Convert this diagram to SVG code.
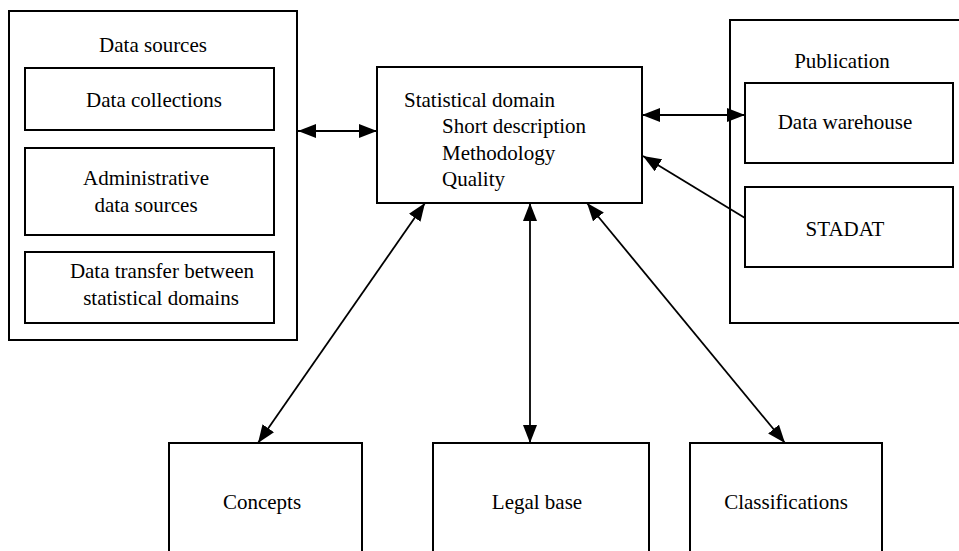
<svg xmlns="http://www.w3.org/2000/svg" width="959" height="551" viewBox="0 0 959 551">
<style>
  .box { fill: #fff; stroke: #000; stroke-width: 2; }
  .t { font-family: 'Liberation Serif', 'Times New Roman', 'DejaVu Serif', serif; font-size: 21px; fill: #000; }
  .c { text-anchor: middle; }
  .conn { stroke: #000; stroke-width: 1.8; fill: none; }
</style>
<defs>
  <marker id="ah" viewBox="0 0 18 14" refX="18" refY="7" markerWidth="18" markerHeight="14" markerUnits="userSpaceOnUse" orient="auto-start-reverse">
    <path d="M0,0 L18,7 L0,14 z" fill="#000"/>
  </marker>
</defs>
<rect width="959" height="551" fill="#fff"/>

<g id="data-sources">
  <rect class="box" x="9" y="11" width="288" height="329"/>
  <text class="t c" x="153" y="52" font-family="Liberation Serif, serif">Data sources</text>
</g>
<g id="data-collections">
  <rect class="box" x="25" y="68" width="249" height="62"/>
  <text class="t c" x="154" y="107" font-family="Liberation Serif, serif">Data collections</text>
</g>
<g id="administrative-data-sources">
  <rect class="box" x="25" y="148" width="249" height="87"/>
  <text class="t c" x="146" y="185" font-family="Liberation Serif, serif">Administrative</text>
  <text class="t c" x="146" y="212" font-family="Liberation Serif, serif">data sources</text>
</g>
<g id="data-transfer">
  <rect class="box" x="25" y="252" width="249" height="71"/>
  <text class="t c" x="162" y="278" font-family="Liberation Serif, serif">Data transfer between</text>
  <text class="t c" x="161" y="305" font-family="Liberation Serif, serif">statistical domains</text>
</g>

<g id="statistical-domain">
  <rect class="box" x="377" y="67" width="265" height="136"/>
  <text class="t" x="404" y="107" font-family="Liberation Serif, serif">Statistical domain</text>
  <text class="t" x="442" y="133" font-family="Liberation Serif, serif">Short description</text>
  <text class="t" x="442" y="160" font-family="Liberation Serif, serif">Methodology</text>
  <text class="t" x="442" y="186" font-family="Liberation Serif, serif">Quality</text>
</g>

<g id="publication">
  <rect class="box" x="730" y="20" width="240" height="303"/>
  <text class="t c" x="842" y="68" font-family="Liberation Serif, serif">Publication</text>
</g>
<g id="data-warehouse">
  <rect class="box" x="745" y="83" width="208" height="80"/>
  <text class="t c" x="845" y="129" font-family="Liberation Serif, serif">Data warehouse</text>
</g>
<g id="stadat">
  <rect class="box" x="745" y="187" width="208" height="80"/>
  <text class="t c" x="845" y="236" font-family="Liberation Serif, serif">STADAT</text>
</g>

<g id="concepts">
  <rect class="box" x="169" y="443" width="193" height="120"/>
  <text class="t c" x="262" y="509" font-family="Liberation Serif, serif">Concepts</text>
</g>
<g id="legal-base">
  <rect class="box" x="433" y="443" width="216" height="120"/>
  <text class="t c" x="537" y="509" font-family="Liberation Serif, serif">Legal base</text>
</g>
<g id="classifications">
  <rect class="box" x="690" y="443" width="192" height="120"/>
  <text class="t c" x="786" y="509" font-family="Liberation Serif, serif">Classifications</text>
</g>

<g id="connectors">
  <line class="conn" x1="298" y1="131" x2="377" y2="131" marker-start="url(#ah)" marker-end="url(#ah)"/>
  <line class="conn" x1="642" y1="115" x2="745" y2="115" marker-start="url(#ah)" marker-end="url(#ah)"/>
  <line class="conn" x1="745" y1="218" x2="643" y2="156" marker-end="url(#ah)"/>
  <line class="conn" x1="425" y1="203" x2="258" y2="443" marker-start="url(#ah)" marker-end="url(#ah)"/>
  <line class="conn" x1="530" y1="203" x2="530" y2="443" marker-start="url(#ah)" marker-end="url(#ah)"/>
  <line class="conn" x1="587" y1="203" x2="785" y2="443" marker-start="url(#ah)" marker-end="url(#ah)"/>
</g>
</svg>
